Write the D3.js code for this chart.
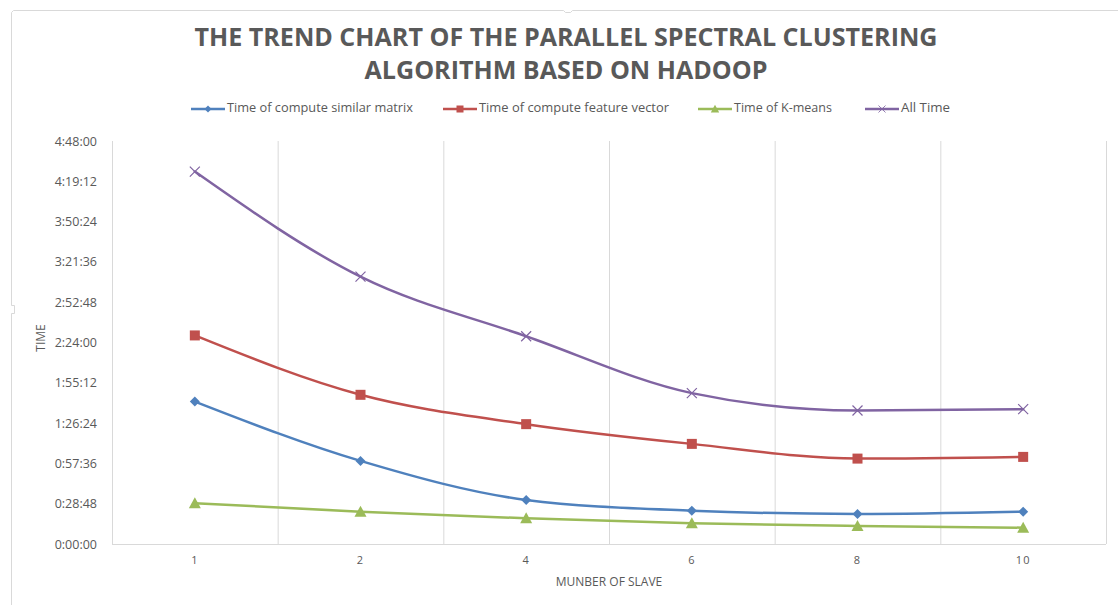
<!DOCTYPE html>
<html>
<head>
<meta charset="utf-8">
<script src="https://cdnjs.cloudflare.com/ajax/libs/d3/7.8.5/d3.min.js"></script>
<style>
  body { margin: 0; background: #fff; }
  svg { display: block; }
</style>
</head>
<body>
<div id="vis"></div>
<script>
// category axis
const slaves = ['1', '2', '4', '6', '8', '10'];

// times in seconds
const similarMatrix = [6109, 3563, 1889, 1430, 1288, 1387];
const featureVector = [8943, 6397, 5139, 4293, 3662, 3735];
const kMeans = [1747, 1387, 1103, 889, 773, 700];
const allTime = [15970, 11463, 8908, 6470, 5724, 5783];

const seriesNames = ['Time of compute similar matrix', 'Time of compute feature vector', 'Time of K-means', 'All Time'];
const yTicks = [0, 1728, 3456, 5184, 6912, 8640, 10368, 12096, 13824, 15552, 17280];

const width = 1118;
const height = 605;
const margin = {top: 141, right: 12, bottom: 61, left: 112};

const svg = d3.select('#vis')
    .append('svg')
    .attr('width', width)
    .attr('height', height);

// chart frame: only top and left edges show, with the little selection notches
svg.append('path')
    .attr('d', 'M11.5,605V313.5H14.5V305.5H11.5V12.5L13.5,10.5H563.5L565.5,12.5H570.5L572.5,10.5H1118')
    .attr('fill', 'none')
    .attr('stroke', '#d9d9d9')
    .attr('stroke-width', 1);

const x = d3.scaleBand()
    .domain(slaves)
    .range([margin.left, width - margin.right]);

const y = d3.scaleLinear()
    .domain([0, 17280])
    .range([height - margin.bottom, margin.top]);

function fmt(s) {
    const h = Math.floor(s / 3600);
    const m = Math.floor((s % 3600) / 60);
    const sec = s % 60;
    return h + ':' + String(m).padStart(2, '0') + ':' + String(sec).padStart(2, '0');
}

// vertical gridlines at category boundaries
const bounds = slaves.map(d => x(d)).concat([x.range()[1]]);
svg.append('g')
    .selectAll('line')
    .data(bounds)
    .join('line')
    .attr('x1', d => d + 0.5)
    .attr('x2', d => d + 0.5)
    .attr('y1', y(17280))
    .attr('y2', y(0))
    .attr('stroke', '#d9d9d9')
    .attr('stroke-width', 1);

// bottom axis line
svg.append('line')
    .attr('x1', x.range()[0])
    .attr('x2', x.range()[1])
    .attr('y1', y(0) + 0.5)
    .attr('y2', y(0) + 0.5)
    .attr('stroke', '#d9d9d9')
    .attr('stroke-width', 1);

// y axis labels
const yAxis = d3.axisLeft(y)
    .tickValues(yTicks)
    .tickFormat(fmt)
    .tickSize(0)
    .tickPadding(15);

const yg = svg.append('g')
    .attr('transform', 'translate(' + margin.left + ',0)')
    .call(yAxis);
yg.select('.domain').remove();
yg.selectAll('text')
    .attr('fill', '#595959')
    .attr('font-family', 'Open Sans')
    .attr('font-size', '12.5px');

// x axis labels
const xAxis = d3.axisBottom(x).tickSize(0).tickPadding(12);
const xg = svg.append('g')
    .attr('transform', 'translate(0,' + y(0) + ')')
    .call(xAxis);
xg.select('.domain').remove();
xg.selectAll('text')
    .attr('fill', '#595959')
    .attr('font-family', 'Open Sans')
    .attr('font-size', '11px')
    .attr('letter-spacing', '1px');

// axis titles
svg.append('text')
    .attr('x', 609)
    .attr('y', 586)
    .attr('fill', '#595959')
    .attr('font-family', 'Open Sans')
    .attr('font-size', '12px')
    .attr('text-anchor', 'middle')
    .text('MUNBER OF SLAVE');

svg.append('text')
    .attr('transform', 'translate(45,338) rotate(-90)')
    .attr('fill', '#595959')
    .attr('font-family', 'Open Sans')
    .attr('font-size', '12px')
    .attr('text-anchor', 'middle')
    .text('TIME');

// title
svg.append('text')
    .attr('x', 566)
    .attr('y', 46)
    .attr('fill', '#595959')
    .attr('font-family', 'Open Sans')
    .attr('font-weight', 'bold')
    .attr('font-size', '25px')
    .attr('text-anchor', 'middle')
    .attr('textLength', 743)
    .attr('lengthAdjust', 'spacingAndGlyphs')
    .text('THE TREND CHART OF THE PARALLEL SPECTRAL CLUSTERING');

svg.append('text')
    .attr('x', 566)
    .attr('y', 79)
    .attr('fill', '#595959')
    .attr('font-family', 'Open Sans')
    .attr('font-weight', 'bold')
    .attr('font-size', '25px')
    .attr('text-anchor', 'middle')
    .attr('textLength', 403)
    .attr('lengthAdjust', 'spacingAndGlyphs')
    .text('ALGORITHM BASED ON HADOOP');

const series = [
    {name: seriesNames[0], values: similarMatrix, color: '#4f81bd', marker: 'diamond'},
    {name: seriesNames[1], values: featureVector, color: '#c0504d', marker: 'square'},
    {name: seriesNames[2], values: kMeans, color: '#9bbb59', marker: 'triangle'},
    {name: seriesNames[3], values: allTime, color: '#8064a2', marker: 'x'}
];

function drawMarker(g, type, color) {
    if (type === 'diamond') {
        g.append('path').attr('d', 'M0,-5L5,0L0,5L-5,0Z').attr('fill', color);
    } else if (type === 'square') {
        g.append('rect').attr('x', -5).attr('y', -5).attr('width', 10).attr('height', 10).attr('fill', color);
    } else if (type === 'triangle') {
        g.append('path').attr('d', 'M0,-6L6,5L-6,5Z').attr('fill', color);
    } else {
        g.append('path').attr('d', 'M-5,-5L5,5M-5,5L5,-5')
            .attr('stroke', color).attr('stroke-width', 1.2).attr('fill', 'none');
    }
}

const line = d3.line()
    .x((d, i) => x(slaves[i]) + x.bandwidth() / 2)
    .y(d => y(d))
    .curve(d3.curveMonotoneX);

series.forEach(s => {
    svg.append('path')
        .datum(s.values)
        .attr('d', line)
        .attr('fill', 'none')
        .attr('stroke', s.color)
        .attr('stroke-width', 2.5)
        .attr('stroke-linecap', 'round');

    s.values.forEach((v, i) => {
        const g = svg.append('g')
            .attr('transform', 'translate(' + (x(slaves[i]) + x.bandwidth() / 2) + ',' + y(v) + ')');
        drawMarker(g, s.marker, s.color);
    });
});

// legend
const legendX = [191, 443, 698, 865];
const legendLen = [186, 190, 98, 49];
series.forEach((s, i) => {
    const lg = svg.append('g')
        .attr('transform', 'translate(' + legendX[i] + ',109)');
    lg.append('line')
        .attr('x1', 0)
        .attr('x2', 34)
        .attr('y1', 0)
        .attr('y2', 0)
        .attr('stroke', s.color)
        .attr('stroke-width', 2.5);
    const m = lg.append('g')
        .attr('transform', 'translate(17,0) scale(0.7)');
    drawMarker(m, s.marker, s.color);
    lg.append('text')
        .attr('x', 36)
        .attr('y', 0)
        .attr('fill', '#595959')
        .attr('font-family', 'Open Sans')
        .attr('font-size', '12.5px')
        .attr('dominant-baseline', 'middle')
        .attr('textLength', legendLen[i])
        .attr('lengthAdjust', 'spacingAndGlyphs')
        .text(s.name);
});
</script>
</body>
</html>
